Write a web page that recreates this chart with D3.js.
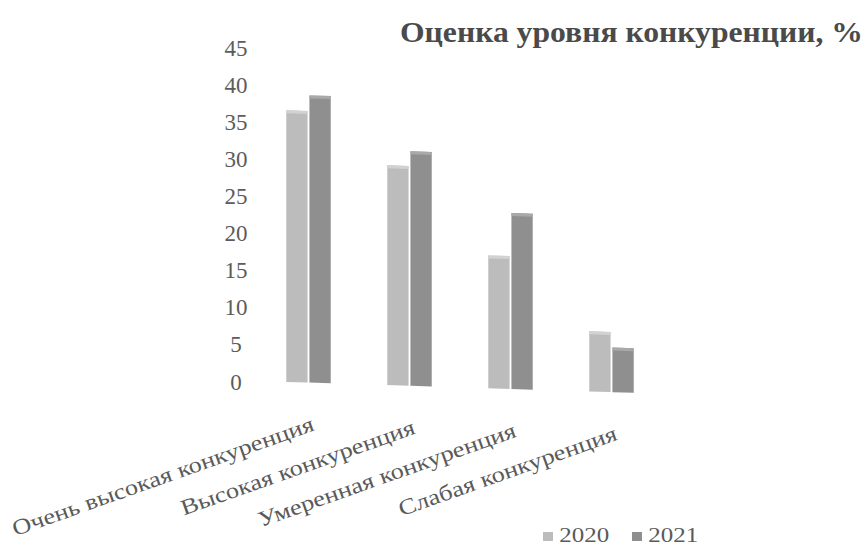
<!DOCTYPE html>
<html>
<head>
<meta charset="utf-8">
<script src="https://cdn.jsdelivr.net/npm/d3@7"></script>
<style>
  body { margin: 0; background: #fff; }
  svg text { font-family: "Liberation Serif", "Times New Roman", serif; }
</style>
</head>
<body>
<svg id="chart" width="867" height="552"></svg>
<script>
// chart data
var categories = ["Очень высокая конкуренция", "Высокая конкуренция", "Умеренная конкуренция", "Слабая конкуренция"];
var series = ["2020", "2021"];
var values2020 = [36.6, 29.6, 17.9, 8.1];
var values2021 = [38.7, 31.6, 23.7, 6.0];
var yTicks = [0, 5, 10, 15, 20, 25, 30, 35, 40, 45];
var title = "Оценка уровня конкуренции, %";

var colors = {"2020": "#bcbcbc", "2021": "#8f8f8f"};
var capColors = {"2020": "#d2d2d2", "2021": "#a9a9a9"};

var svg = d3.select("#chart");
var plotLeft = 258, plotRight = 662, plotTop = 47, plotBottom = 381;
var slope = Math.tan(1.8 * Math.PI / 180); // the scan's baseline drops to the right

var y = d3.scaleLinear().domain([0, 45]).range([plotBottom, plotTop]);
var x0 = d3.scaleBand().domain(categories).range([plotLeft, plotRight])
    .paddingInner(0.56).paddingOuter(0.28);
var x1 = d3.scaleBand().domain(series).range([0, x0.bandwidth()]).paddingInner(0.08);

var rows = categories.map(function(c, i) {
  return {cat: c, vals: [{s: "2020", v: values2020[i]}, {s: "2021", v: values2021[i]}]};
});

// y axis labels, centred like in the scan
var axisL = svg.append("g")
    .attr("class", "axis left")
    .attr("transform", "translate(236, 0)")
    .call(d3.axisLeft(y).tickValues(yTicks).tickSize(0).tickPadding(0));
axisL.select(".domain").remove();
axisL.selectAll("text")
    .attr("x", 0)
    .attr("text-anchor", "middle")
    .attr("dy", "0.35em")
    .style("font-size", "23px")
    .style("fill", "#5c5c5c");

// bars, sheared a little to follow the photographed page
var plot = svg.append("g")
    .attr("transform", "translate(" + plotLeft + ",0) matrix(1," + slope + ",0,1,0,0) translate(" + (-plotLeft) + ",0)");

var groups = plot.selectAll("g.cat")
    .data(rows)
  .enter().append("g")
    .attr("class", "cat")
    .attr("transform", function(d) { return "translate(" + x0(d.cat) + ",0)"; });

groups.selectAll("rect.bar")
    .data(function(d) { return d.vals; })
  .enter().append("rect")
    .attr("class", "bar")
    .attr("x", function(d) { return x1(d.s); })
    .attr("width", x1.bandwidth())
    .attr("y", function(d) { return y(d.v); })
    .attr("height", function(d) { return y(0) - y(d.v); })
    .style("fill", function(d) { return colors[d.s]; });

groups.selectAll("rect.cap")
    .data(function(d) { return d.vals; })
  .enter().append("rect")
    .attr("class", "cap")
    .attr("x", function(d) { return x1(d.s); })
    .attr("width", x1.bandwidth())
    .attr("y", function(d) { return y(d.v); })
    .attr("height", 3)
    .style("fill", function(d) { return capColors[d.s]; });

// category labels, slanted
svg.append("g").attr("class", "axis bottom")
  .selectAll("text")
    .data(categories)
  .enter().append("text")
    .attr("transform", function(d) {
      var cx = x0(d) + x0.bandwidth() / 2 + 7;
      var cy = 430 + (cx - 315) * slope;
      return "translate(" + cx + "," + cy + ") rotate(-19.5) scale(1.2,1)";
    })
    .attr("text-anchor", "end")
    .style("font-size", "22px")
    .style("fill", "#5a5a5a")
    .text(function(d) { return d; });

// title
svg.append("text")
    .attr("x", 400)
    .attr("y", 42)
    .style("font-size", "29px")
    .style("font-weight", "bold")
    .style("fill", "#4a4a4a")
    .attr("textLength", 463)
    .attr("lengthAdjust", "spacingAndGlyphs")
    .text(title);

// legend
var legend = svg.append("g").attr("class", "legend");
var legendX = d3.scaleOrdinal().domain(series).range([543, 632]);
var items = legend.selectAll("g")
    .data(series)
  .enter().append("g")
    .attr("transform", function(d) { return "translate(" + legendX(d) + ",532)"; });
items.append("rect")
    .attr("width", 10)
    .attr("height", 9)
    .style("fill", function(d) { return colors[d]; });
items.append("text")
    .attr("x", 13)
    .attr("y", 10)
    .attr("transform", "scale(1.25,1)")
    .style("font-size", "20px")
    .style("fill", "#5a5a5a")
    .text(function(d) { return d; });
</script>
</body>
</html>
